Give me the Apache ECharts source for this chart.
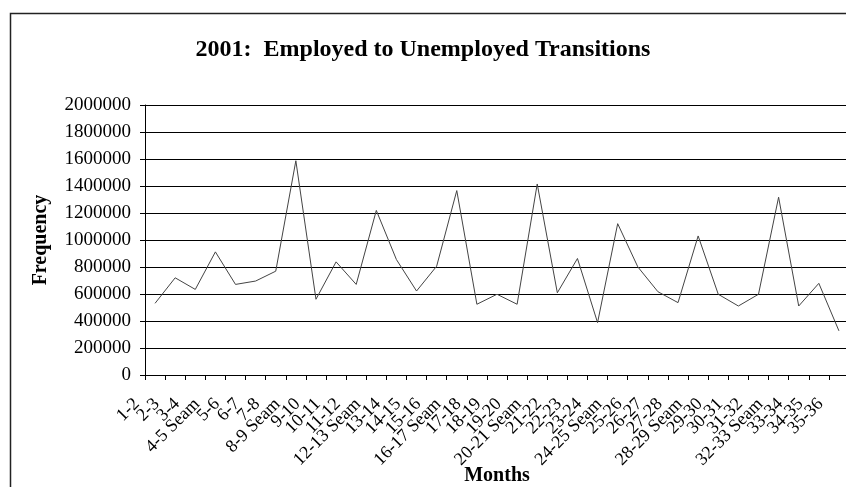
<!DOCTYPE html>
<html>
<head>
<meta charset="utf-8">
<script src="https://cdn.jsdelivr.net/npm/echarts@6/dist/echarts.min.js"></script>
<style>
html,body{margin:0;padding:0;background:#fff;}
#c{width:846px;height:487px;}
</style>
</head>
<body>
<div id="c"></div>
<script>
var categories = ['1-2','2-3','3-4','4-5 Seam','5-6','6-7','7-8','8-9 Seam','9-10','10-11','11-12','12-13 Seam','13-14','14-15','15-16','16-17 Seam','17-18','18-19','19-20','20-21 Seam','21-22','22-23','23-24','24-25 Seam','25-26','26-27','27-28','28-29 Seam','29-30','30-31','31-32','32-33 Seam','33-34','34-35','35-36'];
var frequency = [531000,720000,634000,912000,671000,696000,769000,1587000,561000,838000,671000,1219000,855000,622000,806000,1366000,524000,598000,524000,1415000,609000,863000,388000,1121000,801000,617000,536000,1030000,598000,511000,598000,1317000,511000,679000,327000];
var yTicks = [0,200000,400000,600000,800000,1000000,1200000,1400000,1600000,1800000,2000000];

var serif = '"Liberation Serif","Times New Roman",serif';
var chart = echarts.init(document.getElementById('c'), null, {renderer:'canvas'});
chart.setOption({
  animation:false,
  backgroundColor:'#fff',
  title:{
    text:'2001:  Employed to Unemployed Transitions',
    left:'center', top:33,
    textStyle:{fontFamily:serif, fontSize:24, fontWeight:'bold', color:'#000'}
  },
  graphic:[{
    type:'rect', left:8, top:11, silent:true,
    shape:{x:0,y:0,width:860,height:500},
    style:{fill:'none', stroke:'#222', lineWidth:1.5}
  }],
  grid:{left:145, right:-3, top:105, bottom:112, containLabel:false, outerBoundsMode:'none'},
  xAxis:{
    type:'category', data:categories, boundaryGap:true,
    name:'Months', nameLocation:'middle', nameGap:91, nameMoveOverlap:false,
    nameTextStyle:{fontFamily:serif, fontSize:20, fontWeight:'bold', color:'#000'},
    axisLine:{lineStyle:{color:'#000', width:1}},
    axisTick:{show:true, length:5, inside:false, lineStyle:{color:'#000'}},
    axisLabel:{interval:0, rotate:45, margin:8, padding:[0,26,0,0], fontFamily:serif, fontSize:18, color:'#000'},
    splitLine:{show:false}
  },
  yAxis:{
    type:'value', min:yTicks[0], max:yTicks[yTicks.length-1], interval:200000,
    name:'Frequency', nameLocation:'middle', nameGap:94, nameRotate:90, nameMoveOverlap:false,
    nameTextStyle:{fontFamily:serif, fontSize:20, fontWeight:'bold', color:'#000'},
    axisLine:{show:true, lineStyle:{color:'#000', width:1}},
    axisTick:{show:true, length:5, inside:false, lineStyle:{color:'#000'}},
    axisLabel:{margin:14, fontFamily:serif, fontSize:19, color:'#000', formatter:function(v){return String(v);}},
    splitLine:{show:true, lineStyle:{color:'#000', width:1}}
  },
  series:[{
    type:'line', data:frequency, showSymbol:false, symbol:'none',
    lineStyle:{color:'#444', width:1}
  }]
});
</script>
</body>
</html>
